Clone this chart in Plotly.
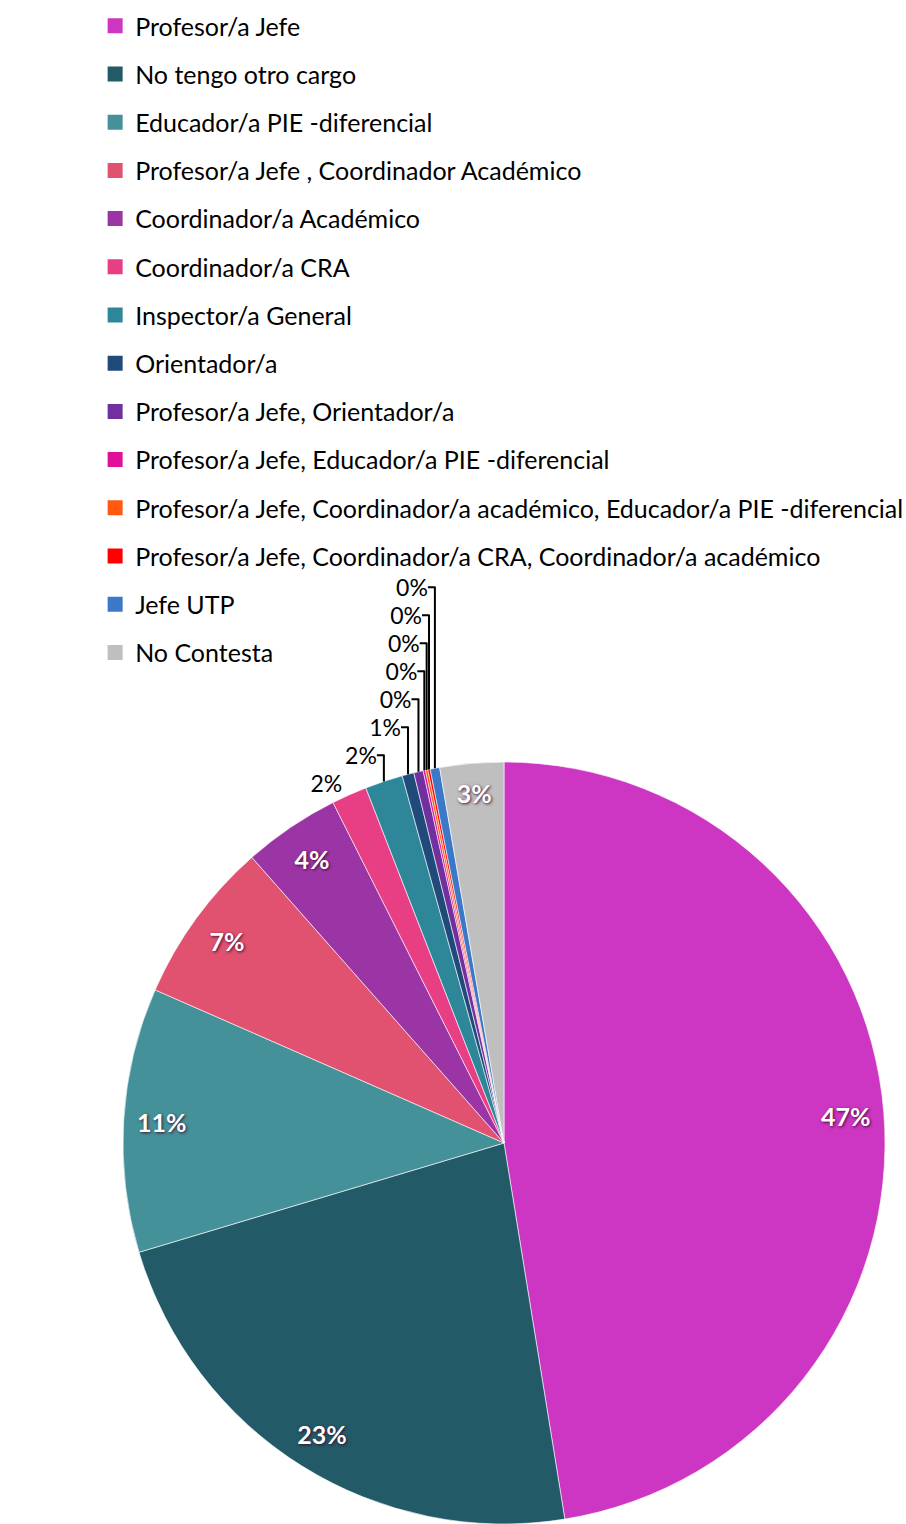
import plotly.graph_objects as go

labels = [
    "Profesor/a Jefe",
    "No tengo otro cargo",
    "Educador/a PIE -diferencial",
    "Profesor/a Jefe , Coordinador Académico",
    "Coordinador/a Académico",
    "Coordinador/a CRA",
    "Inspector/a General",
    "Orientador/a",
    "Profesor/a Jefe, Orientador/a",
    "Profesor/a Jefe, Educador/a PIE -diferencial",
    "Profesor/a Jefe, Coordinador/a académico, Educador/a PIE -diferencial",
    "Profesor/a Jefe, Coordinador/a CRA, Coordinador/a académico",
    "Jefe UTP",
    "No Contesta",
]
values = [474, 229, 112, 69, 41, 15, 16, 5, 4, 1, 1, 1, 4, 27]
colors = [
    "#CC36C2", "#225A68", "#45919A", "#E05270", "#9B35A5", "#E83E84",
    "#2E8799", "#1F4A7A", "#7030A0", "#E0109A", "#FF5A10", "#FF0000",
    "#3C78C8", "#BFBFBF",
]
# which labels sit inside (white bold) vs outside (black)
inside = [True, True, True, True, True, False, False, False, False, False, False, False, False, True]

FONT = "Lato"
W, H = 906, 1524
dom_x = [119 / W, 889 / W]
dom_y = [0.0, 0.5]

fig = go.Figure()

# legend entries (one group per category for spacing)
for lab, col in zip(labels, colors):
    fig.add_trace(go.Scatter(
        x=[None], y=[None], mode="markers", name=lab, legendgroup=lab,
        marker=dict(symbol="square", size=15, color=col),
        hoverinfo="skip",
    ))

# base pie with outside labels for small slices
fig.add_trace(go.Pie(
    labels=labels, values=values, sort=False, direction="clockwise", rotation=0,
    marker=dict(colors=colors, line=dict(color="white", width=0.6)),
    texttemplate="%{percent:.0%}",
    textposition=["none" if i else "outside" for i in inside],
    outsidetextfont=dict(family=FONT, size=23, color="black"),
    automargin=False, showlegend=False, domain=dict(x=dom_x, y=dom_y),
    hoverinfo="label+percent",
))

# transparent ring on top carrying the inside labels near the rim
fig.add_trace(go.Pie(
    labels=labels, values=values, sort=False, direction="clockwise", rotation=0,
    hole=0.8,
    marker=dict(colors=["rgba(0,0,0,0)"] * len(labels), line=dict(width=0)),
    texttemplate="%{percent:.0%}",
    textposition=["inside" if i else "none" for i in inside],
    insidetextorientation="horizontal",
    insidetextfont=dict(family=FONT, size=25, color="white", weight="bold",
                        shadow="1px 1px 3px rgba(60,0,40,0.9)"),
    showlegend=False, domain=dict(x=dom_x, y=dom_y), hoverinfo="skip",
))

fig.update_layout(
    width=W, height=H, autosize=False,
    margin=dict(l=0, r=0, t=0, b=0, autoexpand=False),
    paper_bgcolor="white", plot_bgcolor="white",
    xaxis=dict(visible=False), yaxis=dict(visible=False),
    legend=dict(
        x=0.105, y=0.998, xanchor="left", yanchor="top",
        font=dict(family=FONT, size=25, color="black"),
        tracegroupgap=12.7, bgcolor="rgba(0,0,0,0)",
    ),
    showlegend=True,
)

fig.write_html("out.html", config={"displayModeBar": False},
               post_script="document.body.style.margin='0';")
